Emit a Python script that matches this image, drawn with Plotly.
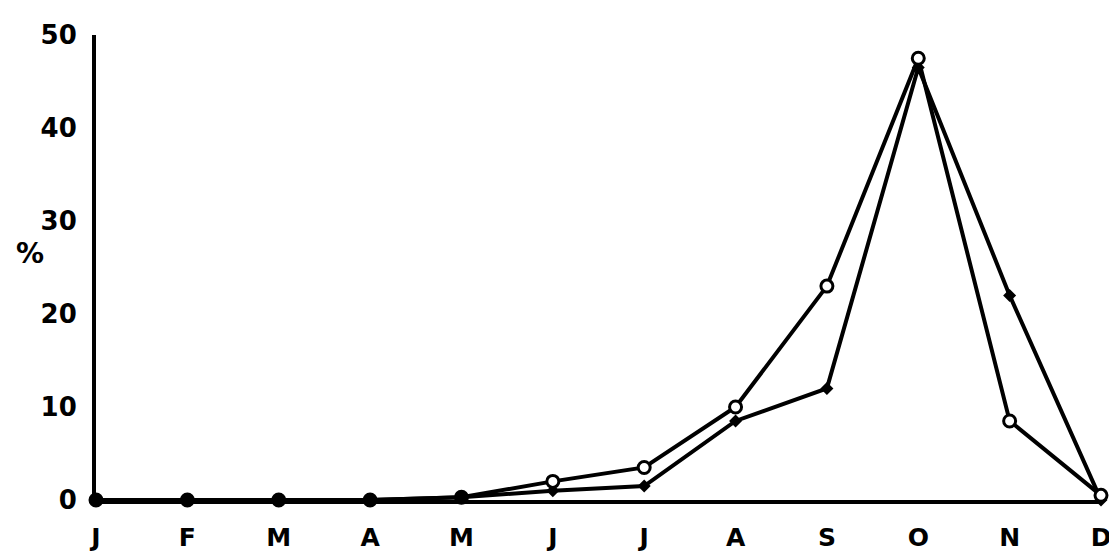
import plotly.graph_objects as go

months = ["J", "F", "M", "A", "M", "J", "J", "A", "S", "O", "N", "D"]
circle_series = [0, 0, 0, 0, 0.3, 2, 3.5, 10, 23, 47.5, 8.5, 0.5]
plus_series = [0, 0, 0, 0, 0.3, 1, 1.5, 8.5, 12, 46.5, 22, 0]
y_ticks = [0, 10, 20, 30, 40, 50]

x = list(range(len(months)))
# overlapping points at zero are drawn as solid blobs in the original
circle_fill = ["black" if (c == 0 and p == 0) or (c == p) else "white"
               for c, p in zip(circle_series, plus_series)]

fig = go.Figure()
fig.add_trace(go.Scatter(
    x=x, y=plus_series, mode="lines+markers",
    line=dict(color="black", width=4),
    marker=dict(symbol="diamond", size=10, color="black"),
    cliponaxis=False, showlegend=False,
))
fig.add_trace(go.Scatter(
    x=x, y=circle_series, mode="lines+markers",
    line=dict(color="black", width=4),
    marker=dict(symbol="circle", size=12, color=circle_fill,
                line=dict(color="black", width=3)),
    cliponaxis=False, showlegend=False,
))

fig.update_layout(
    width=1117, height=556,
    margin=dict(l=88, r=24, t=27, b=64),
    plot_bgcolor="white", paper_bgcolor="white",
    font=dict(family="DejaVu Sans", size=24, color="black", weight="bold"),
    xaxis=dict(
        range=[0, 11], tickmode="array", tickvals=x, ticktext=months,
        showgrid=False, zeroline=False, showline=True, linecolor="black",
        linewidth=4, ticks="", ticklabelstandoff=12,
        tickfont=dict(family="DejaVu Sans", size=25, color="black", weight="bold"),
    ),
    yaxis=dict(
        range=[0, 50], tickmode="array", tickvals=y_ticks,
        showgrid=False, zeroline=False, showline=True, linecolor="black",
        linewidth=4, ticks="", ticklabelstandoff=10,
        tickfont=dict(family="DejaVu Sans", size=26, color="black", weight="bold"),
    ),
    annotations=[dict(
        text="%", xref="paper", yref="paper",
        x=(22 - 88) / (1117 - 88 - 24), y=(492 - 245) / (556 - 27 - 64),
        showarrow=False, xanchor="center", yanchor="middle",
        font=dict(family="DejaVu Sans", size=28, color="black", weight="bold"),
    )],
)

fig.write_html("out.html")
